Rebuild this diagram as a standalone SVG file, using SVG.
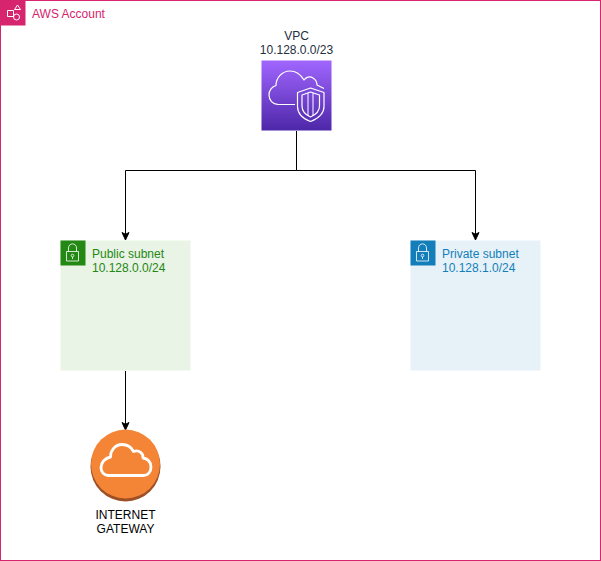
<svg xmlns="http://www.w3.org/2000/svg" width="601" height="561" viewBox="0 0 601 561">
<style>
text{font-family:"Liberation Sans",Arial,sans-serif;font-size:12px}
.c{stroke:#000;stroke-width:1;fill:none;marker-end:url(#a)}
.w{fill:none;stroke:#fff;stroke-width:1.200;stroke-linejoin:round}
.m{text-anchor:middle;fill:#232F3E}
</style>
<defs>
<marker id="a" markerUnits="userSpaceOnUse" markerWidth="10" markerHeight="10" refX="8" refY="5" orient="auto"><path d="M0.500 1.500L8 5L0.500 8.500L2.300 5Z" fill="#000" stroke="#000" stroke-width="1"/></marker>
<linearGradient id="v" x1="0" y1="1" x2="0" y2="0"><stop offset="0" stop-color="#4D27A8"/><stop offset="1" stop-color="#A166FF"/></linearGradient>
</defs>
<rect width="601" height="561" fill="#fff"/>
<g id="account">
<rect x="0.500" y="0.500" width="600" height="560" fill="#fff" stroke="#D6246E" stroke-width="1"/>
<rect x="0.500" y="0.500" width="25" height="25" fill="#D6246E"/>
<g class="w" style="stroke-width:1">
<rect x="7.500" y="10.500" width="6" height="6"/><path d="M14.500 9.500L17.500 5L20.500 9.500Z"/><circle cx="16.500" cy="17" r="3"/>
</g>
<text x="32" y="18" fill="#D6246E">AWS Account</text>
</g>
<g id="connectors">
<path class="c" d="M296.500 131V170.500H125.500V240"/>
<path class="c" d="M296.500 131V170.500H475.500V240"/>
<path class="c" d="M125.500 371V430"/>
</g>
<g id="vpc">
<rect x="261.500" y="60.500" width="70" height="70" fill="url(#v)"/>
<path class="w" d="M295 104.500H278.500C272.500 104.500 269 100 269 95C269 90.500 272 86.500 276 85.500C276 78 282 71 290 71C296 71 301 75 304 80C306 77 310 76 313 78C316 80 317 83 317 85L324 88.500"/>
<path class="w" d="M297.500 92.500L310.500 88L324 92.500V106.500C324 114 317 119 310.500 121.500C304 119 297.500 114 297.500 106.500Z"/>
<path class="w" d="M302 95L310.500 92L319.500 95V106C319.500 111.500 315 115 310.500 117C306 115 302 111.500 302 106Z"/>
<path class="w" d="M308 93V116M313 93V116" style="stroke-width:1"/>
<text class="m" x="296.500" y="40">VPC</text>
<text class="m" x="296.500" y="54">10.128.0.0/23</text>
</g>
<g id="public-subnet">
<rect x="60.500" y="240.500" width="130" height="130" fill="#E9F3E6"/>
<rect x="60.500" y="240.500" width="25" height="25" fill="#248814"/>
<g class="w" style="stroke-width:0.800"><rect x="66.500" y="251.500" width="12" height="9.500"/><path d="M68.500 251.500V248C68.500 242.500 76.500 242.500 76.500 248V251.500"/><circle cx="72.500" cy="255.500" r="1.300"/><path d="M72.500 257V259"/></g>
<text x="92" y="258" fill="#248814">Public subnet</text>
<text x="92" y="272" fill="#248814">10.128.0.0/24</text>
</g>
<g id="private-subnet">
<rect x="410.500" y="240.500" width="130" height="130" fill="#E6F2F8"/>
<rect x="410.500" y="240.500" width="25" height="25" fill="#147EBA"/>
<g class="w" style="stroke-width:0.800"><rect x="416.500" y="251.500" width="12" height="9.500"/><path d="M418.500 251.500V248C418.500 242.500 426.500 242.500 426.500 248V251.500"/><circle cx="422.500" cy="255.500" r="1.300"/><path d="M422.500 257V259"/></g>
<text x="442" y="258" fill="#147EBA">Private subnet</text>
<text x="442" y="272" fill="#147EBA">10.128.1.0/24</text>
</g>
<g id="internet-gateway">
<circle cx="125.500" cy="466.500" r="35" fill="#9D5025"/>
<circle cx="125.500" cy="464" r="34.500" fill="#F58536"/>
<path d="M108 475.500H143.500C148.500 475.500 151 471 151 467C151 462 147.500 458.500 143 458C143.500 453 138.500 449.500 133.500 451.500C131 446.500 126.500 444.500 122 444.500C115.500 444.500 110.500 450 110.500 457C105 458 101 462.500 101 467.500C101 472 104 475.500 108 475.500Z" fill="none" stroke="#fff" stroke-width="2.800" stroke-linejoin="round"/>
<text class="m" x="125.500" y="519" style="fill:#000">INTERNET</text>
<text class="m" x="125.500" y="533" style="fill:#000">GATEWAY</text>
</g>
</svg>
